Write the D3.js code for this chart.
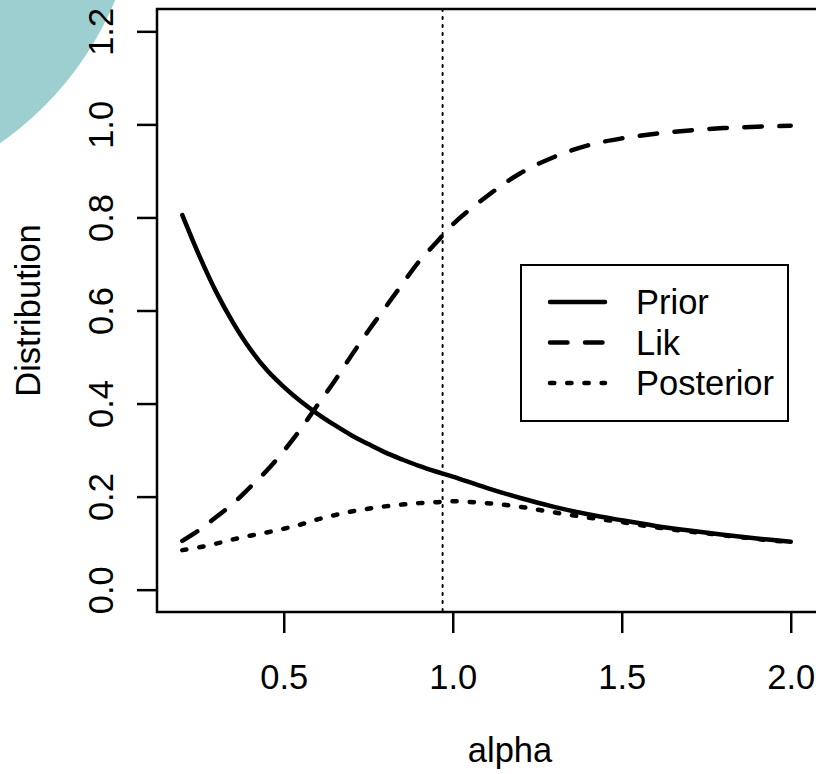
<!DOCTYPE html>
<html>
<head>
<meta charset="utf-8">
<script src="https://cdn.jsdelivr.net/npm/d3@7"></script>
<style>
  html, body { margin: 0; padding: 0; background: #ffffff; overflow: hidden; }
  svg { display: block; }
  text { font-family: "Liberation Sans", Arial, Helvetica, sans-serif; fill: #000; }
</style>
</head>
<body>
<svg id="chart" width="816" height="774"></svg>
<script>
// Grid of alpha values and the three curves evaluated on it
const alphaGrid = [0.20,0.25,0.30,0.35,0.40,0.45,0.50,0.55,0.60,0.65,0.70,0.75,0.80,0.85,0.90,0.95,1.00,1.10,1.20,1.30,1.40,1.50,1.60,1.70,1.80,1.90,2.00];
const priorVals = [0.805,0.718,0.640,0.574,0.518,0.472,0.436,0.405,0.378,0.354,0.332,0.313,0.295,0.280,0.266,0.254,0.243,0.219,0.197,0.178,0.162,0.149,0.137,0.127,0.118,0.110,0.103];
const likVals   = [0.105,0.128,0.156,0.185,0.220,0.256,0.298,0.345,0.397,0.448,0.503,0.556,0.606,0.656,0.705,0.745,0.785,0.845,0.895,0.930,0.955,0.970,0.980,0.987,0.992,0.995,0.997];
const postVals  = [0.085,0.091,0.099,0.108,0.116,0.123,0.131,0.140,0.151,0.160,0.168,0.174,0.179,0.183,0.186,0.188,0.190,0.186,0.178,0.166,0.155,0.145,0.134,0.125,0.117,0.109,0.102];

const seriesNames = ["Prior", "Lik", "Posterior"];
const xTicks = [0.5, 1.0, 1.5, 2.0];
const yTicks = [0.0, 0.2, 0.4, 0.6, 0.8, 1.0, 1.2];
const markerAlpha = 0.97;   // vertical reference line
const xLabel = "alpha";
const yLabel = "Distribution";

const svg = d3.select("#chart");
const FONT = 34.5;

// Plot region; the right part of the frame runs past the edge of the page
const plot = { left: 158, right: 862, top: 9, bottom: 612 };
const x = d3.scaleLinear().domain([0.128, 0.128 + (862 - 158) / 338]).range([plot.left, plot.right]);
const y = d3.scaleLinear().domain([-0.048, 1.248]).range([plot.bottom, plot.top]);

// Decorative teal disc in the top-left corner
svg.append("circle")
  .attr("cx", -187).attr("cy", -125).attr("r", 327)
  .attr("fill", "#9dcfd0");

// Axes (ticks and labels only; the frame is drawn separately)
const gx = svg.append("g")
  .attr("transform", `translate(0,${plot.bottom})`)
  .call(d3.axisBottom(x).tickValues(xTicks).tickSize(21).tickSizeOuter(0).tickFormat(d3.format(".1f")));
gx.select(".domain").remove();
gx.selectAll(".tick line").attr("stroke", "#000").attr("stroke-width", 2.5);
gx.selectAll(".tick text")
  .attr("y", 77).attr("dy", 0)
  .attr("font-size", FONT).attr("font-family", null);

const gy = svg.append("g")
  .attr("transform", `translate(${plot.left - 1},0)`)
  .call(d3.axisLeft(y).tickValues(yTicks).tickSize(20).tickSizeOuter(0).tickFormat(d3.format(".1f")));
gy.select(".domain").remove();
gy.selectAll(".tick line").attr("stroke", "#000").attr("stroke-width", 2.5);
gy.selectAll(".tick text")
  .attr("x", 0).attr("dy", 0)
  .attr("text-anchor", "middle")
  .attr("transform", "translate(-44,0) rotate(-90)")
  .attr("font-size", FONT).attr("font-family", null);

// Frame around the plot region
svg.append("rect")
  .attr("x", plot.left - 1).attr("y", plot.top)
  .attr("width", plot.right - plot.left + 1).attr("height", plot.bottom - plot.top)
  .attr("fill", "none").attr("stroke", "#000").attr("stroke-width", 2.5);

// Axis titles
svg.append("text")
  .attr("x", (plot.left + plot.right) / 2).attr("y", 762)
  .attr("text-anchor", "middle").attr("font-size", FONT)
  .text(xLabel);
svg.append("text")
  .attr("transform", `translate(40,${(plot.top + plot.bottom) / 2}) rotate(-90)`)
  .attr("text-anchor", "middle").attr("font-size", FONT)
  .text(yLabel);

// Clip curves to the plot region
svg.append("clipPath").attr("id", "plotClip")
  .append("rect")
  .attr("x", plot.left).attr("y", plot.top)
  .attr("width", plot.right - plot.left).attr("height", plot.bottom - plot.top);

// Vertical dotted reference line
svg.append("line")
  .attr("clip-path", "url(#plotClip)")
  .attr("x1", x(markerAlpha)).attr("x2", x(markerAlpha))
  .attr("y1", plot.top).attr("y2", plot.bottom)
  .attr("stroke", "#000").attr("stroke-width", 2)
  .attr("stroke-dasharray", "2,6").attr("stroke-linecap", "round");

// Line styles per series: solid, dashed, dotted
const LW = 4.5;
const dashStyles = [null, "17.5,17.5", "4.3,12.9"];
const seriesVals = [priorVals, likVals, postVals];

const line = d3.line()
  .x(d => x(d[0]))
  .y(d => y(d[1]))
  .curve(d3.curveCatmullRom.alpha(0.5));

seriesVals.forEach((vals, i) => {
  svg.append("path")
    .datum(alphaGrid.map((a, k) => [a, vals[k]]))
    .attr("clip-path", "url(#plotClip)")
    .attr("d", line)
    .attr("fill", "none")
    .attr("stroke", "#000")
    .attr("stroke-width", LW)
    .attr("stroke-linecap", "round")
    .attr("stroke-linejoin", "round")
    .attr("stroke-dasharray", dashStyles[i]);
});

// Legend
const legend = svg.append("g");
legend.append("rect")
  .attr("x", 521).attr("y", 265).attr("width", 267).attr("height", 156)
  .attr("fill", "#fff").attr("stroke", "#000").attr("stroke-width", 2);

const rowY = d3.scalePoint().domain(seriesNames).range([302, 383]);
seriesNames.forEach((name, i) => {
  legend.append("line")
    .attr("x1", 550).attr("x2", 605)
    .attr("y1", rowY(name)).attr("y2", rowY(name))
    .attr("stroke", "#000").attr("stroke-width", LW)
    .attr("stroke-linecap", "round")
    .attr("stroke-dasharray", dashStyles[i]);
  legend.append("text")
    .attr("x", 636).attr("y", rowY(name)).attr("dy", "0.36em")
    .attr("font-size", FONT)
    .text(name);
});
</script>
</body>
</html>
